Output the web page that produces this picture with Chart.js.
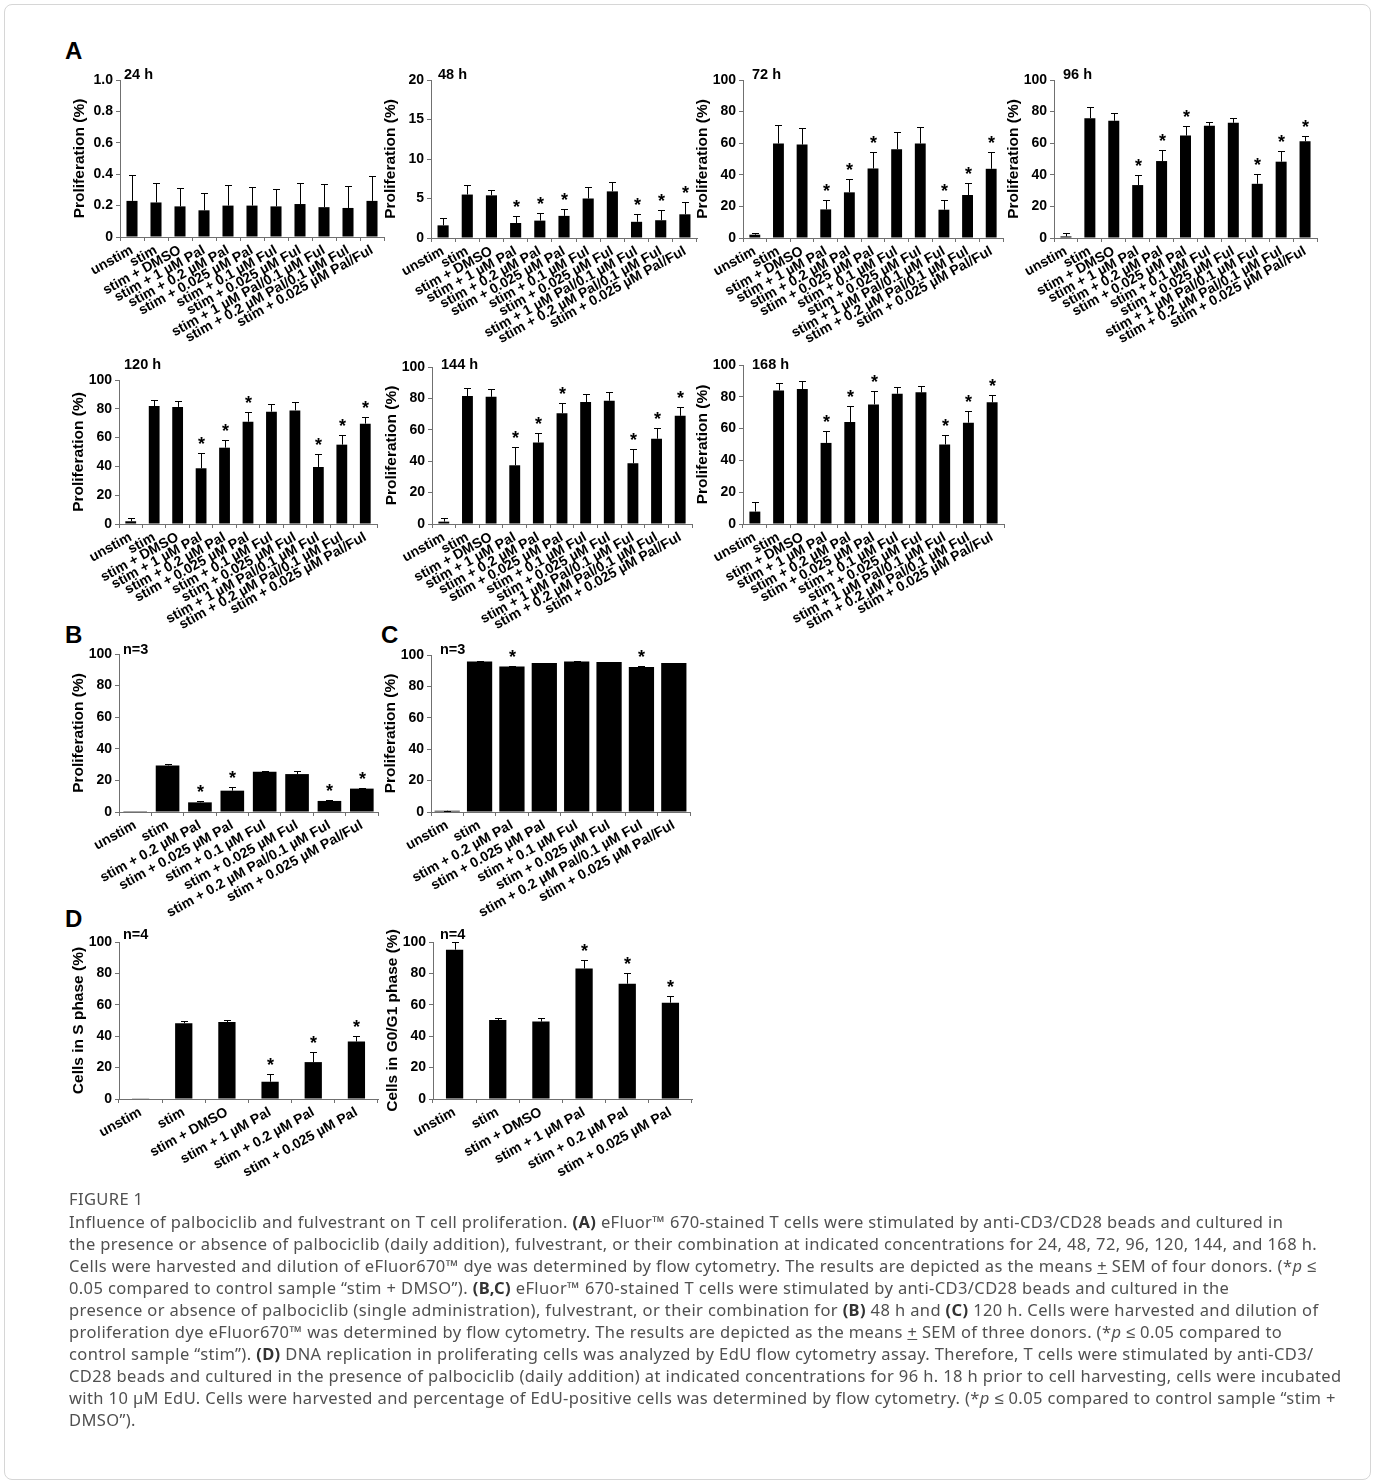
<!DOCTYPE html>
<html lang="en">
<head>
  <meta charset="UTF-8" />
  <title>Figure 1 - palbociclib / fulvestrant proliferation</title>
  <script src="https://cdn.jsdelivr.net/npm/chart.js"></script>
  <style>
    body {
      margin: 0;
      background: #fff;
    }

    #page {
      position: relative;
      width: 1375px;
      height: 1484px;
      overflow: hidden;
      background: #fff;
    }

    .frame {
      position: absolute;
      left: 4px;
      top: 4px;
      width: 1365px;
      height: 1474px;
      border: 1px solid #d6d6d6;
      border-radius: 8px;
    }

    .plabel {
      position: absolute;
      font-family: 'Liberation Sans', Arial, sans-serif;
      font-weight: bold;
      font-size: 24px;
      line-height: 24px;
      color: #000;
    }

    canvas {
      position: absolute;
    }

    .cap {
      position: absolute;
      left: 69px;
      font-family: 'Noto Sans', sans-serif;
      font-size: 16.5px;
      letter-spacing: 0.38px;
      line-height: 20px;
      color: #505050;
      white-space: nowrap;
    }

    .cap b { color: #333; }
  </style>
</head>
<body>
<div id="page">
  <div class="frame"></div>
  <div class="plabel" style="left:65px;top:39px">A</div>
  <div class="plabel" style="left:65px;top:623px">B</div>
  <div class="plabel" style="left:381px;top:623px">C</div>
  <div class="plabel" style="left:65px;top:907px">D</div>

  <canvas id="c24"></canvas>
  <canvas id="c48"></canvas>
  <canvas id="c72"></canvas>
  <canvas id="c96"></canvas>
  <canvas id="c120"></canvas>
  <canvas id="c144"></canvas>
  <canvas id="c168"></canvas>
  <canvas id="cB"></canvas>
  <canvas id="cC"></canvas>
  <canvas id="cDs"></canvas>
  <canvas id="cDg"></canvas>

  <div class="cap" style="top:1189px">FIGURE 1</div>
  <div class="cap" style="top:1212px">Influence of palbociclib and fulvestrant on T cell proliferation. <b>(A)</b> eFluor™ 670-stained T cells were stimulated by anti-CD3/CD28 beads and cultured in</div>
  <div class="cap" style="top:1234px">the presence or absence of palbociclib (daily addition), fulvestrant, or their combination at indicated concentrations for 24, 48, 72, 96, 120, 144, and 168 h.</div>
  <div class="cap" style="top:1256px">Cells were harvested and dilution of eFluor670™ dye was determined by flow cytometry. The results are depicted as the means <u>+</u> SEM of four donors. (*<i>p</i> ≤</div>
  <div class="cap" style="top:1278px">0.05 compared to control sample “stim + DMSO”). <b>(B,C)</b> eFluor™ 670-stained T cells were stimulated by anti-CD3/CD28 beads and cultured in the</div>
  <div class="cap" style="top:1300px">presence or absence of palbociclib (single administration), fulvestrant, or their combination for <b>(B)</b> 48 h and <b>(C)</b> 120 h. Cells were harvested and dilution of</div>
  <div class="cap" style="top:1322px">proliferation dye eFluor670™ was determined by flow cytometry. The results are depicted as the means <u>+</u> SEM of three donors. (*<i>p</i> ≤ 0.05 compared to</div>
  <div class="cap" style="top:1344px">control sample “stim”). <b>(D)</b> DNA replication in proliferating cells was analyzed by EdU flow cytometry assay. Therefore, T cells were stimulated by anti-CD3/</div>
  <div class="cap" style="top:1366px">CD28 beads and cultured in the presence of palbociclib (daily addition) at indicated concentrations for 96 h. 18 h prior to cell harvesting, cells were incubated</div>
  <div class="cap" style="top:1388px">with 10 µM EdU. Cells were harvested and percentage of EdU-positive cells was determined by flow cytometry. (*<i>p</i> ≤ 0.05 compared to control sample “stim +</div>
  <div class="cap" style="top:1410px">DMSO”).</div>
</div>

<script>
  // ---- categories ----
  const labelsA = ["unstim", "stim", "stim + DMSO", "stim + 1 µM Pal", "stim + 0.2 µM Pal",
    "stim + 0.025 µM Pal", "stim + 0.1 µM Ful", "stim + 0.025 µM Ful",
    "stim + 1 µM Pal/0.1 µM Ful", "stim + 0.2 µM Pal/0.1 µM Ful", "stim + 0.025 µM Pal/Ful"];
  const labelsBC = ["unstim", "stim", "stim + 0.2 µM Pal", "stim + 0.025 µM Pal", "stim + 0.1 µM Ful",
    "stim + 0.025 µM Ful", "stim + 0.2 µM Pal/0.1 µM Ful", "stim + 0.025 µM Pal/Ful"];
  const labelsD = ["unstim", "stim", "stim + DMSO", "stim + 1 µM Pal", "stim + 0.2 µM Pal", "stim + 0.025 µM Pal"];

  // ---- means and SEM ----
  const mean24 = [0.23, 0.22, 0.195, 0.17, 0.2, 0.2, 0.195, 0.21, 0.19, 0.185, 0.23];
  const sem24  = [0.165, 0.125, 0.115, 0.11, 0.13, 0.12, 0.11, 0.135, 0.15, 0.14, 0.16];
  const mean48 = [1.6, 5.5, 5.4, 1.9, 2.2, 2.8, 5.0, 5.9, 2.05, 2.25, 3.0];
  const sem48  = [0.95, 1.2, 0.7, 0.9, 1.0, 0.9, 1.5, 1.2, 1.05, 1.35, 1.5];
  const mean72 = [2.1, 59.8, 59.1, 18.1, 28.9, 44, 56.2, 59.8, 17.9, 27.2, 43.8];
  const sem72  = [1.3, 11.5, 10.5, 6, 8.5, 10.5, 11, 10.6, 6.4, 7.5, 10.5];
  const mean96 = [1, 75.8, 74.2, 33.5, 48.7, 64.8, 71, 72.9, 34.3, 48.3, 61.2];
  const sem96  = [2, 6.8, 5.2, 6.5, 6.8, 5.8, 2.7, 2.9, 6.2, 6.7, 3.6];
  const mean120 = [1.9, 81.9, 81.3, 38.7, 53, 71, 78, 78.9, 39.6, 55.1, 69.7];
  const sem120  = [2.5, 4.2, 4.3, 10.8, 5.3, 6.5, 5.1, 5.6, 8.8, 6.7, 4.8];
  const mean144 = [1.5, 81.5, 81, 37.4, 51.9, 70.6, 77.7, 78.5, 38.7, 54.3, 68.9];
  const sem144  = [2.5, 4.9, 4.7, 11.5, 5.8, 6.2, 5.3, 5.8, 9.2, 6.7, 5.4];
  const mean168 = [7.8, 84, 84.9, 51, 64.1, 75.2, 81.9, 82.8, 50, 63.7, 76.5];
  const sem168  = [6.1, 4.7, 4.8, 7.8, 9.9, 8.2, 4.4, 4, 6.1, 7.1, 4.6];
  const meanB = [0.1, 29.5, 6.1, 13.5, 25.5, 24, 7, 14.8];
  const semB  = [0, 0.9, 0.7, 2.5, 0.5, 1.7, 0.4, 0.6];
  const meanC = [0.8, 95.8, 92.6, 94.9, 95.8, 95.5, 92.4, 94.9];
  const semC  = [0.1, 0.4, 0.6, 0.2, 0.2, 0.3, 0.4, 0.2];
  const meanS = [0.2, 48.2, 49, 11, 23.5, 36.6];
  const semS  = [0, 1.3, 1.5, 5, 6.5, 3.8];
  const meanG = [95.1, 50.3, 49.3, 83.1, 73.4, 61.3];
  const semG  = [5.1, 1.1, 2.1, 5.3, 6.9, 4];

  // significance marks (category index)
  const starsA = [3, 4, 5, 8, 9, 10];
  const starsB = [2, 3, 6, 7];
  const starsC = [2, 6];
  const starsD = [3, 4, 5];

  const FONT = "'Liberation Sans', Arial, sans-serif";
  const AXIS = '#707070';

  // draws upper error bars, asterisks and the small corner title
  const extras = {
    id: 'extras',
    afterDatasetsDraw(chart, args, o) {
      const { ctx, scales: { x, y }, chartArea } = chart;
      ctx.save();
      ctx.strokeStyle = '#000';
      ctx.fillStyle = '#000';
      ctx.lineWidth = 1;
      o.values.forEach((v, i) => {
        const px = Math.round(x.getPixelForValue(i)) + 0.5;
        const y0 = y.getPixelForValue(v);
        const y1 = Math.round(y.getPixelForValue(v + o.errors[i])) + 0.5;
        if (o.errors[i] > 0) {
          ctx.beginPath();
          ctx.moveTo(px, y0);
          ctx.lineTo(px, y1);
          ctx.moveTo(px - 3.5, y1);
          ctx.lineTo(px + 3.5, y1);
          ctx.stroke();
        }
        if (o.stars.includes(i)) {
          ctx.font = 'bold 18px ' + FONT;
          ctx.textAlign = 'center';
          ctx.textBaseline = 'alphabetic';
          ctx.fillText('*', px, y1 - 4);
        }
      });
      ctx.font = 'bold 14.5px ' + FONT;
      ctx.textAlign = 'left';
      ctx.textBaseline = 'middle';
      ctx.fillText(o.title, chartArea.left + o.tdx, chartArea.top - o.tdy);
      ctx.restore();
    }
  };

  const YW = 50, PAD_TOP = 22, PAD_R = 10, XH = 118;

  function makeChart(id, p) {
    const cv = document.getElementById(id);
    const w = YW + (p.right - p.axis) + PAD_R;
    const h = PAD_TOP + (p.bottom - p.top) + XH;
    cv.width = w;
    cv.height = h;
    cv.style.left = (p.axis - YW) + 'px';
    cv.style.top = (p.top - PAD_TOP) + 'px';
    cv.style.width = w + 'px';
    cv.style.height = h + 'px';

    return new Chart(cv, {
      type: 'bar',
      data: {
        labels: p.labels,
        datasets: [{
          data: p.values,
          backgroundColor: '#000',
          borderWidth: 0,
          barPercentage: p.barFrac,
          categoryPercentage: 1
        }]
      },
      options: {
        responsive: false,
        devicePixelRatio: 1,
        animation: false,
        layout: { padding: { top: PAD_TOP, right: PAD_R, left: 0, bottom: 0 } },
        plugins: {
          legend: { display: false },
          tooltip: { enabled: false },
          extras: { values: p.values, errors: p.errors, stars: p.stars, title: p.title, tdx: p.tdx, tdy: p.tdy }
        },
        scales: {
          x: {
            offset: true,
            grid: { offset: true, drawOnChartArea: false, drawTicks: true, tickLength: 4, color: AXIS },
            border: { color: AXIS, width: 1 },
            ticks: {
              autoSkip: false, minRotation: 29, maxRotation: 29, padding: 1,
              color: '#000', font: { family: FONT, weight: 'bold', size: 14 }
            },
            afterFit: s => { s.height = XH; }
          },
          y: {
            min: 0,
            max: p.max,
            grid: { drawOnChartArea: false, drawTicks: true, tickLength: 4, color: AXIS },
            border: { color: AXIS, width: 1 },
            ticks: {
              stepSize: p.step, padding: 3, color: '#000',
              font: { family: FONT, weight: 'bold', size: 14 },
              callback: v => (p.step < 1 && v !== 0) ? v.toFixed(1) : String(v)
            },
            title: {
              display: true, text: p.yTitle, color: '#000', padding: 0,
              font: { family: FONT, weight: 'bold', size: 15.5 }
            },
            afterFit: s => { s.width = YW; }
          }
        }
      },
      plugins: [extras]
    });
  }

  const PROLIF = 'Proliferation (%)';

  makeChart('c24',  { labels: labelsA, values: mean24,  errors: sem24,  stars: [],     max: 1,  step: 0.2, title: '24 h',  yTitle: PROLIF, axis: 120,  top: 80,  bottom: 237, right: 384,  barFrac: 0.46, tdx: 4, tdy: 5 });
  makeChart('c48',  { labels: labelsA, values: mean48,  errors: sem48,  stars: starsA, max: 20, step: 5,   title: '48 h',  yTitle: PROLIF, axis: 431,  top: 80,  bottom: 238, right: 697,  barFrac: 0.46, tdx: 7, tdy: 5 });
  makeChart('c72',  { labels: labelsA, values: mean72,  errors: sem72,  stars: starsA, max: 100, step: 20, title: '72 h',  yTitle: PROLIF, axis: 743,  top: 80,  bottom: 238, right: 1003, barFrac: 0.46, tdx: 9, tdy: 5 });
  makeChart('c96',  { labels: labelsA, values: mean96,  errors: sem96,  stars: starsA, max: 100, step: 20, title: '96 h',  yTitle: PROLIF, axis: 1054, top: 80,  bottom: 238, right: 1317, barFrac: 0.46, tdx: 9, tdy: 5 });
  makeChart('c120', { labels: labelsA, values: mean120, errors: sem120, stars: starsA, max: 100, step: 20, title: '120 h', yTitle: PROLIF, axis: 119,  top: 380, bottom: 524, right: 377,  barFrac: 0.46, tdx: 5, tdy: 15 });
  makeChart('c144', { labels: labelsA, values: mean144, errors: sem144, stars: starsA, max: 100, step: 20, title: '144 h', yTitle: PROLIF, axis: 432,  top: 367, bottom: 524, right: 692,  barFrac: 0.46, tdx: 9, tdy: 2 });
  makeChart('c168', { labels: labelsA, values: mean168, errors: sem168, stars: starsA, max: 100, step: 20, title: '168 h', yTitle: PROLIF, axis: 743,  top: 365, bottom: 524, right: 1004, barFrac: 0.46, tdx: 9, tdy: 0 });
  makeChart('cB',   { labels: labelsBC, values: meanB,  errors: semB,   stars: starsB, max: 100, step: 20, title: 'n=3',   yTitle: PROLIF, axis: 119,  top: 654, bottom: 812, right: 378,  barFrac: 0.73, tdx: 4, tdy: 4 });
  makeChart('cC',   { labels: labelsBC, values: meanC,  errors: semC,   stars: starsC, max: 100, step: 20, title: 'n=3',   yTitle: PROLIF, axis: 431,  top: 655, bottom: 812, right: 690,  barFrac: 0.78, tdx: 9, tdy: 5 });
  makeChart('cDs',  { labels: labelsD, values: meanS,   errors: semS,   stars: starsD, max: 100, step: 20, title: 'n=4',   yTitle: 'Cells in S phase (%)',     axis: 119, top: 942, bottom: 1099, right: 378, barFrac: 0.4, tdx: 4, tdy: 7 });
  makeChart('cDg',  { labels: labelsD, values: meanG,   errors: semG,   stars: starsD, max: 100, step: 20, title: 'n=4',   yTitle: 'Cells in G0/G1 phase (%)', axis: 433, top: 942, bottom: 1099, right: 692, barFrac: 0.4, tdx: 7, tdy: 7 });
</script>
</body>
</html>
